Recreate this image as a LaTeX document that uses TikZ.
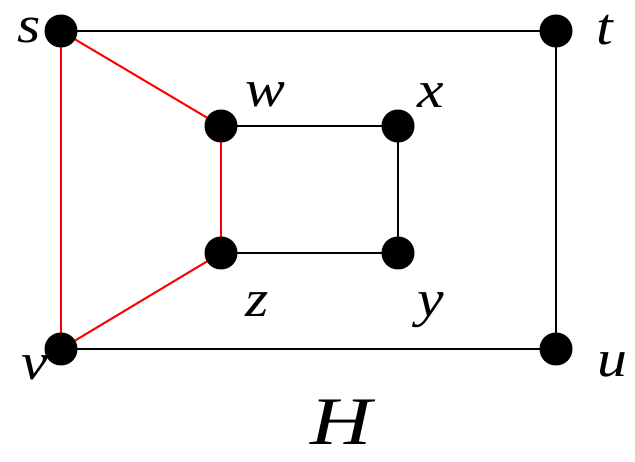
\documentclass[tikz,border=0pt]{standalone}
\usepackage{fontspec}
\usepackage{graphicx}
\setmainfont{Liberation Serif}
\usetikzlibrary{backgrounds}
\newcommand{\wide}[2]{\scalebox{#1}[1]{#2}}
\begin{document}
\begin{tikzpicture}[x=1pt,y=-1pt,
  vtx/.style={circle,fill=black,draw=none,minimum size=33pt,inner sep=0pt},
  lbl/.style={anchor=base,inner sep=0pt,font=\fontsize{52}{52}\selectfont\itshape},
  blk/.style={draw=black,line width=2pt},
  redl/.style={draw=red,line width=2pt}]
\useasboundingbox (0,0) rectangle (635,462);
\node[vtx] (s) at (61,31) {};
\node[vtx] (t) at (556,31) {};
\node[vtx] (w) at (221,126) {};
\node[vtx] (x) at (398,126) {};
\node[vtx] (z) at (221,253) {};
\node[vtx] (y) at (398,253) {};
\node[vtx] (v) at (61,349) {};
\node[vtx] (u) at (556,349) {};
\begin{scope}[on background layer]
\draw[blk] (s.center) -- (t.center);
\draw[blk] (t.center) -- (u.center);
\draw[blk] (u.center) -- (v.center);
\draw[blk] (w.center) -- (x.center);
\draw[blk] (x.center) -- (y.center);
\draw[blk] (y.center) -- (z.center);
\draw[redl] (s.center) -- (w.center);
\draw[redl] (w.center) -- (z.center);
\draw[redl] (z.center) -- (v.center);
\draw[redl] (s.center) -- (v.center);
\end{scope}
\node[lbl] (ls) at (29,43) {\wide{1.15}{s}};
\node[lbl] (lt) at (605,45) {\wide{1.15}{t}};
\node[lbl] (lw) at (265,107) {\wide{1.15}{w}};
\node[lbl] (lx) at (431,108) {\wide{1.15}{x}};
\node[lbl] (lz) at (257,317) {\wide{1.15}{z}};
\node[lbl] (ly) at (431,317) {\wide{1.15}{y}};
\node[lbl] (lv) at (35,380) {\wide{1.15}{v}};
\node[lbl] (lu) at (612,377) {\wide{1.15}{u}};
\node[anchor=base,inner sep=0pt,font=\fontsize{68}{68}\selectfont\itshape] (H) at (341,445) {\wide{1.25}{H}};
\end{tikzpicture}
\end{document}
